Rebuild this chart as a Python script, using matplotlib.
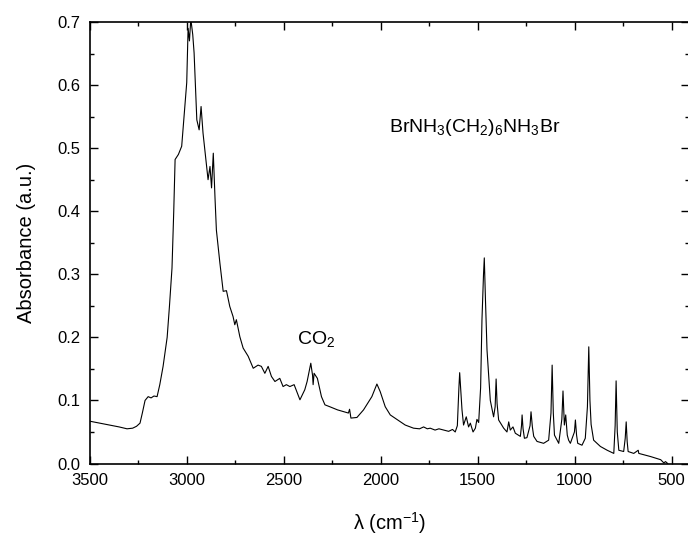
import matplotlib
matplotlib.use("Agg")
import matplotlib.pyplot as plt
from matplotlib.ticker import MultipleLocator

plt.rcParams["font.family"] = ["Liberation Sans", "DejaVu Sans"]
plt.rcParams["mathtext.fontset"] = "custom"
plt.rcParams["mathtext.rm"] = "Liberation Sans"
plt.rcParams["mathtext.it"] = "Liberation Sans:italic"

# FTIR spectrum (wavenumber, absorbance)
wavenumber = [
    3500, 3450, 3400, 3350, 3309, 3280, 3260, 3242, 3230, 3216, 3200, 3185,
    3170, 3154, 3140, 3123, 3102, 3090, 3077, 3068, 3061, 3044, 3027, 3015,
    3001, 2994, 2987, 2980, 2970, 2963, 2949, 2937, 2927, 2917, 2898, 2891,
    2881, 2873, 2864, 2855, 2848, 2830, 2813, 2796, 2779, 2762, 2753, 2745,
    2727, 2710, 2684, 2658, 2633, 2616, 2598, 2581, 2564, 2546, 2521, 2504,
    2487, 2469, 2447, 2417, 2392, 2380, 2361, 2352, 2349, 2344, 2327, 2306,
    2288, 2263, 2223, 2190, 2167, 2161, 2154, 2123, 2089, 2046, 2020, 2003,
    1977, 1951, 1917, 1874, 1831, 1800, 1779, 1760, 1745, 1720, 1700, 1676,
    1650, 1630, 1616, 1605, 1597, 1593, 1588, 1581, 1573, 1559, 1547, 1538,
    1524, 1512, 1504, 1495, 1485, 1478, 1470, 1466, 1460, 1452, 1435, 1418,
    1410, 1405, 1400, 1392, 1366, 1349, 1340, 1332, 1318, 1306, 1280, 1274,
    1271, 1266, 1259, 1246, 1230, 1225, 1218, 1211, 1194, 1160, 1134, 1122,
    1116, 1110, 1104, 1082, 1066, 1060, 1053, 1046, 1038, 1031, 1022, 1001,
    996, 990, 984, 962, 945, 934, 927, 921, 915, 902, 867, 832,
    798, 791, 786, 780, 772, 747, 739, 734, 729, 724, 695, 672,
    669, 608, 556, 540, 531, 520,
]
absorbance = [
    0.067, 0.064, 0.061, 0.058, 0.055, 0.056, 0.059, 0.064, 0.080, 0.100, 0.106, 0.104,
    0.107, 0.106, 0.125, 0.154, 0.200, 0.250, 0.310, 0.400, 0.482, 0.490, 0.503, 0.550,
    0.604, 0.690, 0.670, 0.705, 0.680, 0.651, 0.545, 0.529, 0.566, 0.524, 0.471, 0.450,
    0.471, 0.437, 0.492, 0.420, 0.370, 0.318, 0.273, 0.274, 0.249, 0.233, 0.220, 0.228,
    0.201, 0.183, 0.170, 0.151, 0.156, 0.154, 0.143, 0.154, 0.138, 0.130, 0.135, 0.122,
    0.125, 0.122, 0.125, 0.101, 0.117, 0.130, 0.159, 0.140, 0.125, 0.143, 0.135, 0.106,
    0.093, 0.090, 0.085, 0.082, 0.080, 0.086, 0.072, 0.073, 0.085, 0.106, 0.126, 0.114,
    0.090, 0.077, 0.070, 0.061, 0.056, 0.055, 0.058, 0.055, 0.056, 0.053, 0.055, 0.053,
    0.051, 0.054, 0.050, 0.060, 0.120, 0.144, 0.120, 0.085, 0.061, 0.074, 0.058, 0.064,
    0.050, 0.056, 0.070, 0.065, 0.120, 0.228, 0.300, 0.326, 0.260, 0.180, 0.100, 0.074,
    0.090, 0.134, 0.095, 0.069, 0.056, 0.050, 0.066, 0.053, 0.058, 0.048, 0.043, 0.060,
    0.077, 0.055, 0.040, 0.041, 0.060, 0.082, 0.058, 0.043, 0.035, 0.032, 0.037, 0.080,
    0.156, 0.080, 0.045, 0.032, 0.070, 0.115, 0.061, 0.077, 0.045, 0.037, 0.032, 0.050,
    0.069, 0.045, 0.032, 0.029, 0.040, 0.090, 0.185, 0.100, 0.062, 0.037, 0.027, 0.021,
    0.016, 0.060, 0.131, 0.050, 0.021, 0.019, 0.040, 0.066, 0.035, 0.019, 0.016, 0.021,
    0.016, 0.011, 0.006, 0.001, 0.003, 0.000,
]


def main():
    fig = plt.figure(figsize=(6.88, 5.36), dpi=100)
    ax = fig.add_axes([90 / 688, 1 - 463.5 / 536, 599 / 688, 441.5 / 536])

    ax.plot(wavenumber, absorbance, color="black", linewidth=0.8)

    ax.set_xlim(3500, 410)
    ax.set_ylim(0, 0.7)
    ax.xaxis.set_major_locator(MultipleLocator(500))
    ax.xaxis.set_minor_locator(MultipleLocator(250))
    ax.yaxis.set_major_locator(MultipleLocator(0.1))
    ax.yaxis.set_minor_locator(MultipleLocator(0.05))
    ax.yaxis.set_major_formatter(lambda v, p: f"{v:.1f}")

    ax.tick_params(which="both", direction="in", top=True, right=True,
                   labelsize=12, width=1)
    ax.tick_params(which="major", length=6, pad=7)
    ax.tick_params(which="minor", length=3)
    for spine in ax.spines.values():
        spine.set_linewidth(1.2)

    ax.set_xlabel(r"λ (cm$^{-1}$)", fontsize=14.5, labelpad=16)
    ax.set_ylabel("Absorbance (a.u.)", fontsize=14.5, labelpad=15)

    ax.text(1956, 0.533, r"BrNH$_3$(CH$_2$)$_6$NH$_3$Br", fontsize=14,
            ha="left", va="center")
    ax.text(2431, 0.198, r"CO$_2$", fontsize=14, ha="left", va="center")

    fig.savefig("out.png", dpi=100)


if __name__ == "__main__":
    main()
